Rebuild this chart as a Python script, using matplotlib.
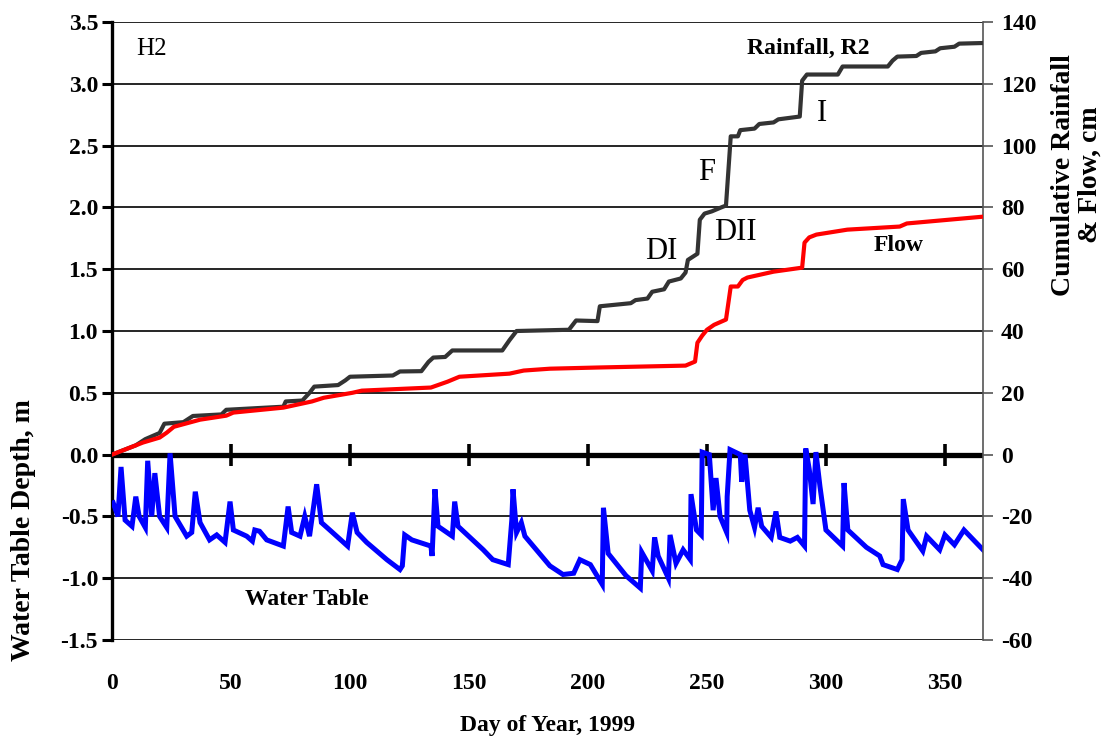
import matplotlib
matplotlib.use("Agg")
import matplotlib.pyplot as plt

plt.rcParams['font.family'] = ['Liberation Serif', 'DejaVu Serif']

# Cumulative rainfall at gauge R2 (cm)
rain_day = [0, 5, 10, 14, 20, 22, 30, 32, 34, 46, 48, 60, 72, 73, 80, 83, 85, 95, 98, 100,
            118, 121, 130, 133, 135, 140, 143, 164, 167, 170, 192, 195, 204, 205, 218, 220,
            225, 227, 232, 234, 239, 241, 242, 244, 246, 247, 249, 252, 256, 258, 260, 263,
            264, 270, 272, 278, 280, 289, 290, 292, 305, 307, 326, 328, 330, 338, 340, 346,
            348, 354, 356, 366]
rain_cm = [0, 1.5, 3, 5, 7, 10, 10.5, 11.5, 12.5, 13, 14.5, 15, 15.5, 17.2, 17.5, 20, 22, 22.5,
           24, 25.2, 25.6, 26.9, 27, 30, 31.4, 31.6, 33.7, 33.7, 37, 40, 40.4, 43.4, 43.2, 48,
           49, 50, 50.5, 52.7, 53.5, 56, 57, 58.9, 63, 64, 65, 76, 78, 78.7, 80, 80.6, 103, 103,
           105, 105.5, 107, 107.5, 108.5, 109.4, 121, 123, 123, 125.6, 125.6, 127.5, 128.8, 129,
           130, 130.5, 131.5, 132, 133, 133.2]

# Cumulative drain flow (cm)
flow_day = [0, 5, 13, 20, 23, 26, 37, 48, 51, 72, 84, 89, 101, 105, 134, 141, 146, 167, 173,
            184, 205, 241, 245, 246, 248, 250, 253, 258, 260, 263, 265, 267, 278, 290, 291, 293,
            296, 309, 331, 334, 366]
flow_cm = [0, 1.5, 3.9, 5.5, 7.1, 9, 11.3, 12.6, 13.6, 15.2, 17.2, 18.4, 20, 20.7, 21.7, 23.6,
           25.2, 26.2, 27.2, 27.8, 28.2, 28.8, 30.1, 36.2, 38.5, 40.4, 42, 43.7, 54.4, 54.4, 56.5,
           57.3, 59.2, 60.5, 68.6, 70.3, 71.2, 72.8, 73.8, 74.8, 77]

# Water table depth (m)
wt_day = [0.5, 2.5, 3.8, 5.5, 8.4, 10, 11.4, 14, 15, 16.7, 18, 20, 23, 24.4, 26.5, 31.4, 33.5,
          35, 37, 41, 44, 47.5, 49.6, 51, 56.6, 59, 60, 62, 65, 72, 74, 75.5, 79, 81, 83, 86,
          88, 91.5, 99, 101, 103, 107, 115.5, 121, 122, 123, 126, 134, 134.5, 135.7, 137, 143,
          144, 145.4, 156, 160, 166.5, 168, 168.5, 170, 172, 173.5, 184, 189.5, 194, 196.6, 201,
          206, 206.5, 208.5, 216, 222, 222.6, 227, 228, 229.5, 233.8, 234.5, 237, 240, 243,
          243.3, 245.6, 247.6, 248, 251, 252.6, 253.8, 255.5, 258.3, 258.5, 259.7, 264, 264.6,
          266, 268, 270, 271.5, 273, 277, 279, 280.6, 285, 288, 291, 291.5, 293, 294.6, 295.8,
          297.5, 300, 307, 307.6, 309.2, 317, 322.6, 324, 330, 332, 332.5, 334.5, 340.7, 342.3,
          347.8, 350, 354, 358, 361, 366]
wt_m = [-0.39, -0.50, -0.10, -0.53, -0.58, -0.34, -0.50, -0.59, -0.05, -0.50, -0.15, -0.50,
        -0.59, 0.01, -0.50, -0.66, -0.63, -0.30, -0.55, -0.69, -0.65, -0.71, -0.38, -0.61,
        -0.66, -0.70, -0.61, -0.62, -0.69, -0.74, -0.42, -0.63, -0.66, -0.50, -0.66, -0.24,
        -0.55, -0.61, -0.74, -0.47, -0.63, -0.71, -0.85, -0.93, -0.90, -0.65, -0.69, -0.74,
        -0.82, -0.28, -0.58, -0.66, -0.38, -0.58, -0.77, -0.85, -0.89, -0.53, -0.28, -0.63,
        -0.55, -0.66, -0.90, -0.97, -0.96, -0.85, -0.89, -1.05, -0.43, -0.80, -0.98, -1.08,
        -0.79, -0.94, -0.67, -0.82, -1.00, -0.65, -0.88, -0.77, -0.85, -0.32, -0.61, -0.65,
        0.02, 0.0, -0.45, -0.19, -0.50, -0.63, -0.34, 0.04, 0.0, -0.22, 0.0, -0.45, -0.59,
        -0.43, -0.58, -0.67, -0.46, -0.67, -0.70, -0.67, -0.74, 0.05, -0.12, -0.40, 0.02,
        -0.26, -0.61, -0.74, -0.23, -0.61, -0.75, -0.82, -0.89, -0.93, -0.85, -0.36, -0.61,
        -0.78, -0.66, -0.77, -0.65, -0.73, -0.61, -0.67, -0.77]

x_ticks = [0, 50, 100, 150, 200, 250, 300, 350]
depth_ticks = [-1.5, -1.0, -0.5, 0.0, 0.5, 1.0, 1.5, 2.0, 2.5, 3.0, 3.5]
cm_ticks = [-60, -40, -20, 0, 20, 40, 60, 80, 100, 120, 140]

fig = plt.figure(figsize=(11.14, 7.46), dpi=100)
ax = fig.add_axes([112 / 1114, 1 - 640 / 746, 871 / 1114, 618 / 746])
ax2 = ax.twinx()

ax.set_xlim(0, 366)
ax.set_ylim(-1.5, 3.5)
ax2.set_ylim(-60, 140)

# horizontal grid
for v in depth_ticks:
    if v != 0:
        ax.axhline(v, color='black', lw=1.2, zorder=1)

# thick zero line with day ticks
ax.axhline(0, color='black', lw=3.8, zorder=2)
ax.plot(x_ticks[1:], [0] * (len(x_ticks) - 1), ls='none', marker='|',
        ms=16, mew=2.6, color='black', zorder=2)

ax.plot(wt_day, wt_m, color='#0000ff', lw=3.6, zorder=3, solid_joinstyle='miter')
ax2.plot(rain_day, rain_cm, color='#333333', lw=3.0, zorder=3)
ax2.plot(flow_day, flow_cm, color='#ff0000', lw=3.0, zorder=4)

ax.set_zorder(ax2.get_zorder() + 1) if False else None

for s in ['top', 'bottom', 'right']:
    ax.spines[s].set_visible(False)
ax.spines['left'].set_linewidth(2.4)
for s in ['top', 'bottom', 'left']:
    ax2.spines[s].set_visible(False)
ax2.spines['right'].set_color('#555555')
ax2.spines['right'].set_linewidth(1.2)

ax.set_xticks(x_ticks)
ax.set_xticklabels([str(v) for v in x_ticks])
ax.tick_params(axis='x', length=0, pad=24, labelsize=17)
ax.set_yticks(depth_ticks)
ax.set_yticklabels([f"{v:.1f}" for v in depth_ticks])
ax.tick_params(axis='y', direction='out', length=7, width=2.2, pad=3, labelsize=17)
ax2.set_yticks(cm_ticks)
ax2.set_yticklabels([str(v) for v in cm_ticks])
ax2.tick_params(axis='y', direction='out', length=7, width=1.2, color='#555555',
                pad=6, labelsize=17)
for lab in ax.get_xticklabels() + ax.get_yticklabels() + ax2.get_yticklabels():
    lab.set_fontweight('bold')

# axis titles
fig.text(24 / 1114, 1 - 530 / 746, 'Water Table Depth, m', rotation=90, ha='center',
         va='center', fontsize=20, fontweight='bold')
fig.text(1064 / 1114, 1 - 175 / 746, 'Cumulative Rainfall', rotation=90, ha='center',
         va='center', fontsize=20, fontweight='bold')
fig.text(1090 / 1114, 1 - 175 / 746, '& Flow, cm', rotation=90, ha='center',
         va='center', fontsize=20, fontweight='bold')
fig.text(547.5 / 1114, 1 - 725 / 746, 'Day of Year, 1999', ha='center', va='center',
         fontsize=17, fontweight='bold')

# annotations
ax.text(10, 3.285, 'H2', ha='left', va='center', fontsize=18)
ax.text(292.4, 3.285, 'Rainfall, R2', ha='center', va='center', fontsize=17, fontweight='bold')
ax.text(298.3, 2.76, 'I', ha='center', va='center', fontsize=22)
ax.text(250, 2.28, 'F', ha='center', va='center', fontsize=22)
ax.text(231, 1.64, 'DI', ha='center', va='center', fontsize=22)
ax.text(262, 1.80, 'DII', ha='center', va='center', fontsize=22)
ax.text(330.7, 1.69, 'Flow', ha='center', va='center', fontsize=17, fontweight='bold')
ax.text(82, -1.17, 'Water Table', ha='center', va='center', fontsize=17, fontweight='bold')

fig.savefig('out.png', dpi=100)
